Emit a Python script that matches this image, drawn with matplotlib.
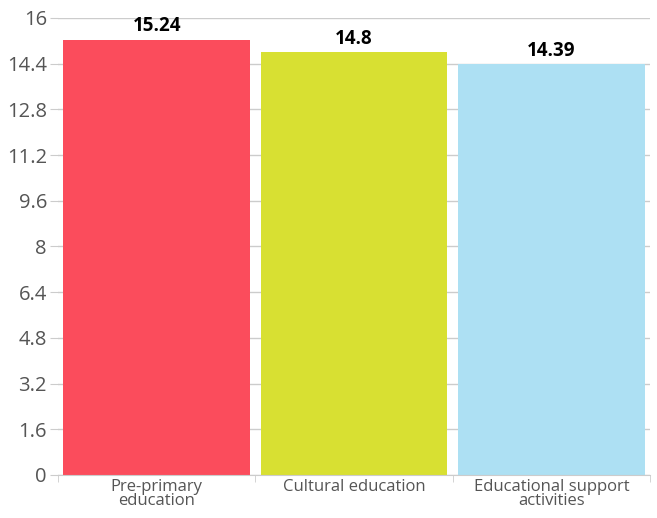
import matplotlib
matplotlib.use("Agg")
import matplotlib.pyplot as plt
import numpy as np

categories = ["Pre-primary\neducation", "Cultural education", "Educational support\nactivities"]
values = [15.24, 14.8, 14.39]
value_labels = ["15.24", "14.8", "14.39"]
colors = ["#FB4C5C", "#D8E032", "#ADE0F3"]
yticks = [0, 1.6, 3.2, 4.8, 6.4, 8, 9.6, 11.2, 12.8, 14.4, 16]
ytick_labels = ["0", "1.6", "3.2", "4.8", "6.4", "8", "9.6", "11.2", "12.8", "14.4", "16"]

plt.rcParams['font.family'] = ['Open Sans', 'DejaVu Sans']

fig = plt.figure(figsize=(6.57, 5.18), dpi=100)
ax = fig.add_axes([58/657, 43/518, (650-58)/657, (475-18)/518])

x = np.arange(len(categories))
ax.bar(x, values, width=0.945, color=colors, zorder=2)
for xi, v, lab in zip(x, values, value_labels):
    ax.text(xi, v + 0.12, lab, ha='center', va='bottom', fontsize=13.5,
            fontweight='bold', color='black')

ax.set_xlim(-0.5, len(categories) - 0.5)
ax.set_ylim(0, 16)
ax.set_yticks(yticks)
ax.set_yticklabels(ytick_labels)
ax.set_xticks(x)
ax.set_xticklabels(categories, fontsize=12, color='#555555', linespacing=0.85)
ax.set_xticks(np.arange(-0.5, len(categories), 1), minor=True)
ax.tick_params(axis='x', which='major', length=0, pad=3)
ax.tick_params(axis='x', which='minor', length=5, color='#cccccc', direction='out')
ax.tick_params(axis='y', length=6, color='#cccccc', labelsize=14.5, labelcolor='#555555', pad=2)

ax.yaxis.grid(True, color='#cccccc', linewidth=1, zorder=0)
ax.set_axisbelow(True)
for s in ['top', 'right', 'left']:
    ax.spines[s].set_visible(False)
ax.spines['bottom'].set_color('#cccccc')

fig.savefig("out.png", dpi=100)
